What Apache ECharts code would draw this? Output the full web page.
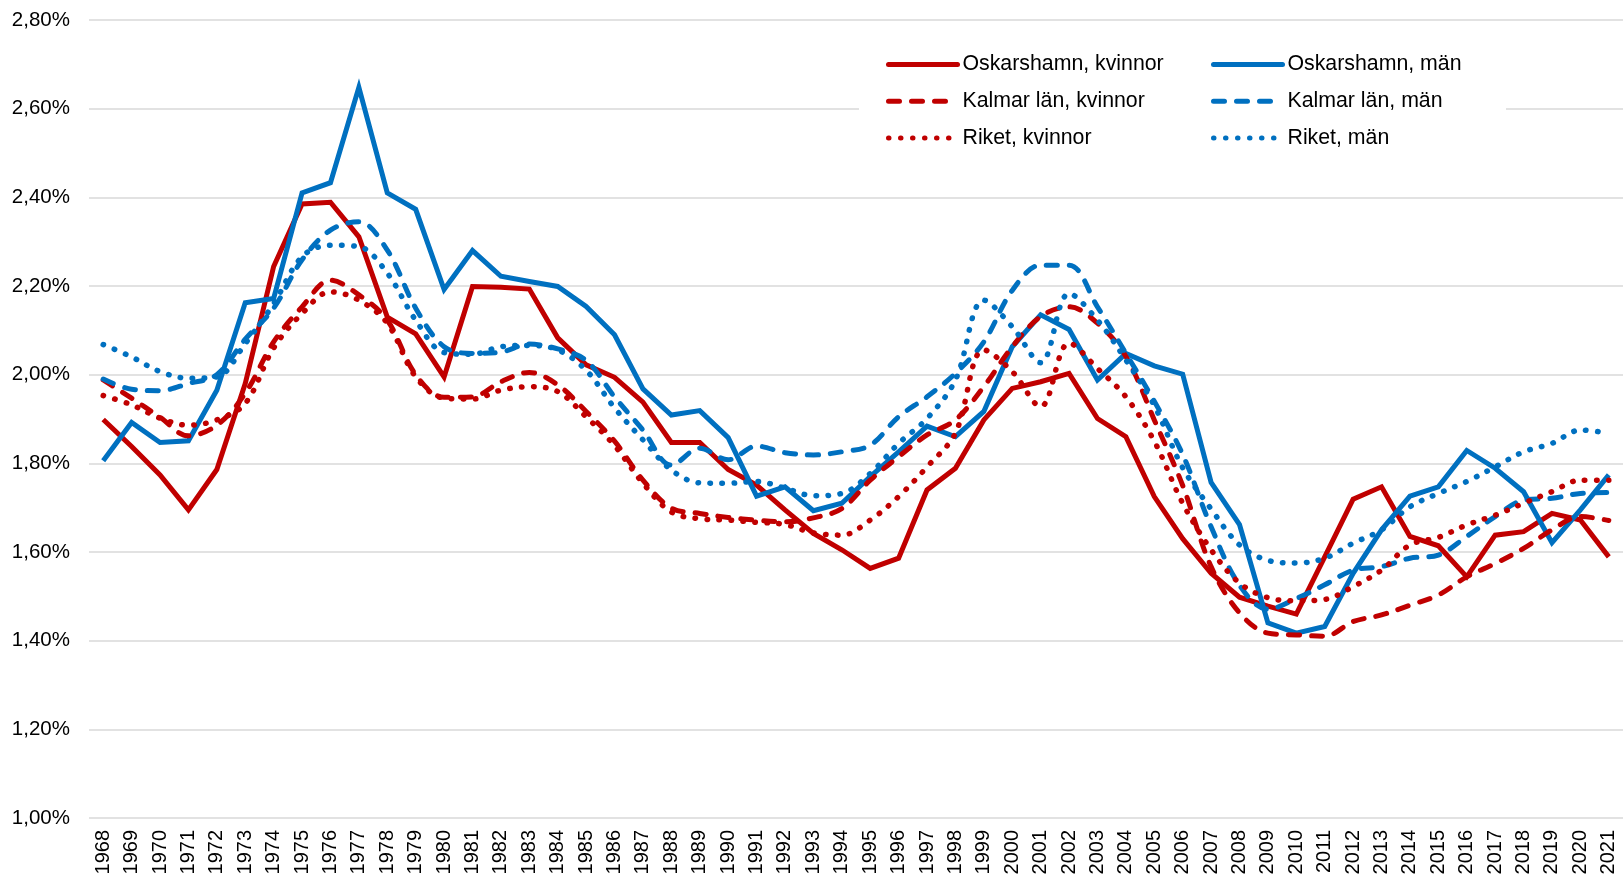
<!DOCTYPE html>
<html>
<head>
<meta charset="utf-8">
<script src="https://cdn.jsdelivr.net/npm/echarts@6/dist/echarts.min.js"></script>
<style>
html,body{margin:0;padding:0;background:#fff;}
#chart{width:1623px;height:879px;}
</style>
</head>
<body>
<div id="chart"></div>
<script>
const years = [1968,1969,1970,1971,1972,1973,1974,1975,1976,1977,1978,1979,1980,1981,1982,1983,1984,1985,1986,1987,1988,1989,1990,1991,1992,1993,1994,1995,1996,1997,1998,1999,2000,2001,2002,2003,2004,2005,2006,2007,2008,2009,2010,2011,2012,2013,2014,2015,2016,2017,2018,2019,2020,2021];

const oskarshamnKvinnor = [1.899,1.838,1.774,1.695,1.786,1.980,2.244,2.385,2.389,2.311,2.130,2.092,1.995,2.199,2.197,2.193,2.083,2.022,1.994,1.938,1.847,1.847,1.786,1.751,1.695,1.642,1.605,1.563,1.586,1.740,1.789,1.898,1.969,1.984,2.003,1.901,1.860,1.725,1.630,1.552,1.498,1.478,1.460,1.589,1.719,1.747,1.635,1.614,1.544,1.638,1.646,1.687,1.672,1.589];

const oskarshamnMan = [1.806,1.892,1.847,1.851,1.965,2.162,2.172,2.410,2.433,2.648,2.410,2.373,2.192,2.280,2.222,2.210,2.199,2.154,2.090,1.968,1.909,1.919,1.858,1.726,1.747,1.693,1.710,1.770,1.826,1.884,1.860,1.917,2.063,2.135,2.102,1.988,2.048,2.020,2.001,1.757,1.662,1.440,1.417,1.432,1.552,1.650,1.726,1.747,1.829,1.789,1.736,1.621,1.695,1.774];

const kalmarKvinnor = [1.988,1.947,1.904,1.862,1.886,1.958,2.074,2.153,2.213,2.180,2.123,2.000,1.949,1.950,1.984,2.005,1.977,1.917,1.850,1.762,1.699,1.687,1.678,1.672,1.668,1.677,1.698,1.762,1.815,1.864,1.898,1.973,2.063,2.131,2.153,2.116,2.041,1.898,1.750,1.567,1.463,1.417,1.413,1.410,1.443,1.458,1.480,1.503,1.544,1.574,1.608,1.650,1.680,1.671];

const kalmarMan = [1.990,1.967,1.964,1.980,2.000,2.080,2.150,2.259,2.326,2.345,2.281,2.150,2.063,2.048,2.051,2.069,2.058,2.032,1.950,1.875,1.796,1.834,1.808,1.839,1.824,1.819,1.826,1.841,1.905,1.950,2.003,2.074,2.190,2.247,2.247,2.153,2.048,1.940,1.820,1.657,1.525,1.471,1.495,1.526,1.559,1.567,1.586,1.593,1.635,1.680,1.717,1.721,1.732,1.734];

const riketKvinnor = [1.953,1.932,1.902,1.886,1.898,1.935,2.060,2.138,2.187,2.168,2.116,1.995,1.947,1.945,1.965,1.973,1.962,1.905,1.840,1.755,1.690,1.675,1.672,1.667,1.662,1.643,1.638,1.672,1.725,1.792,1.868,2.056,2.007,1.928,2.071,2.014,1.950,1.850,1.710,1.605,1.530,1.497,1.490,1.493,1.522,1.559,1.616,1.633,1.661,1.683,1.710,1.736,1.762,1.762];

const riketMan = [2.068,2.040,2.007,1.992,1.995,2.070,2.160,2.266,2.292,2.289,2.229,2.123,2.050,2.046,2.063,2.066,2.056,2.010,1.925,1.853,1.785,1.756,1.755,1.759,1.744,1.727,1.732,1.777,1.845,1.901,1.988,2.168,2.108,2.027,2.183,2.123,2.033,1.930,1.790,1.697,1.616,1.581,1.575,1.586,1.620,1.650,1.702,1.732,1.759,1.792,1.826,1.845,1.875,1.868];

const yMin = 1.0, yMax = 2.8, yStep = 0.2;

const RED = '#C00000', BLUE = '#0070C0';
const FONT = 'Liberation Sans, Arial, sans-serif';
const LW = 5;
const DASH = [11, 12];
const DOT = [0.5, 11.5];

function mk(name, data, color, style) {
  const s = {
    name: name, type: 'line', data: data,
    symbol: 'none', showSymbol: false,
    lineStyle: { color: color, width: LW, cap: 'round', join: 'round' },
    itemStyle: { color: color },
    emphasis: { disabled: true }
  };
  if (style === 'solid') { s.lineStyle.join = 'miter'; s.lineStyle.cap = 'butt'; }
  if (style === 'dash') { s.lineStyle.type = DASH; s.smooth = 0.35; }
  if (style === 'dot') { s.lineStyle.type = DOT; s.lineStyle.width = 5.5; s.smooth = 0.35; }
  return s;
}

const chart = echarts.init(document.getElementById('chart'), null, { renderer: 'canvas' });

const legendBase = {
  orient: 'vertical', top: 54, padding: 0,
  itemWidth: 69, itemHeight: 20, itemGap: 15.8,
  selectedMode: false,
  itemStyle: { opacity: 0 },
  lineStyle: { width: 5, cap: 'round' },
  textStyle: { fontFamily: FONT, fontSize: 21.3, color: '#000', lineHeight: 20 }
};

chart.setOption({
  animation: false,
  backgroundColor: '#fff',
  grid: { left: 89, right: 0, top: 20, bottom: 61, containLabel: false },
  graphic: [{
    type: 'rect', z: 1, silent: true,
    shape: { x: 859, y: 40, width: 647, height: 120 },
    style: { fill: '#fff' }
  }],
  legend: [
    Object.assign({}, legendBase, { left: 886, data: ['Oskarshamn, kvinnor', 'Kalmar län, kvinnor', 'Riket, kvinnor'] }),
    Object.assign({}, legendBase, { left: 1211, data: ['Oskarshamn, män', 'Kalmar län, män', 'Riket, män'] })
  ],
  xAxis: {
    type: 'category', data: years, boundaryGap: true,
    axisLine: { show: false }, axisTick: { show: false },
    axisLabel: { rotate: 90, interval: 0, margin: 12, fontFamily: FONT, fontSize: 20, color: '#000' },
    splitLine: { show: false }
  },
  yAxis: {
    type: 'value', min: yMin, max: yMax, interval: yStep,
    axisLine: { show: false }, axisTick: { show: false },
    axisLabel: {
      margin: 19, fontFamily: FONT, fontSize: 20.5, color: '#000',
      formatter: function (v) { return v.toFixed(2).replace('.', ',') + '%'; }
    },
    splitLine: { show: true, lineStyle: { color: '#D9D9D9', width: 1.5 } }
  },
  series: [
    mk('Oskarshamn, kvinnor', oskarshamnKvinnor, RED, 'solid'),
    mk('Oskarshamn, män', oskarshamnMan, BLUE, 'solid'),
    mk('Kalmar län, kvinnor', kalmarKvinnor, RED, 'dash'),
    mk('Kalmar län, män', kalmarMan, BLUE, 'dash'),
    mk('Riket, kvinnor', riketKvinnor, RED, 'dot'),
    mk('Riket, män', riketMan, BLUE, 'dot')
  ]
});
</script>
</body>
</html>
